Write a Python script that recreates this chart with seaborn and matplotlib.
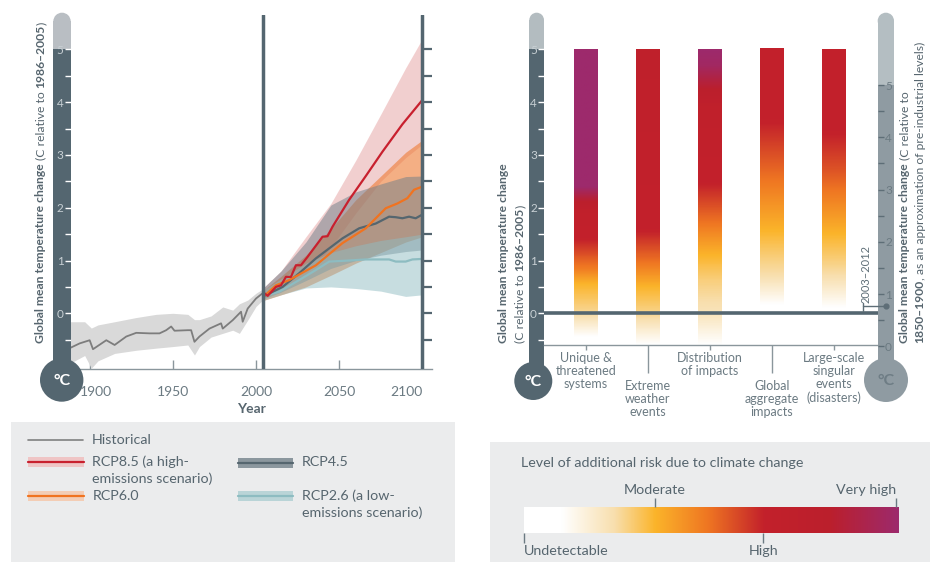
import numpy as np
import pandas as pd
import matplotlib
matplotlib.use("Agg")
import matplotlib.pyplot as plt
import seaborn as sns
from matplotlib.colors import LinearSegmentedColormap
from matplotlib.patches import Rectangle, Circle
from matplotlib.transforms import ScaledTranslation

# ==========================
# Data
# ==========================

# observed record
hist_years = [1888, 1894, 1900, 1902, 1910, 1915, 1922, 1928, 1936, 1942, 1946, 1949,
              1951, 1959, 1961, 1963, 1966, 1972, 1979, 1980, 1986, 1991, 1992, 1995,
              2000, 2004]
hist_mean = [-0.66, -0.57, -0.51, -0.68, -0.51, -0.60, -0.44, -0.37, -0.38, -0.38, -0.32, -0.25,
             -0.33, -0.32, -0.32, -0.54, -0.44, -0.29, -0.19, -0.29, -0.13, 0.03, -0.16, 0.09,
             0.28, 0.38]
hist_band_years = [1888, 1897, 1901, 1905, 1915, 1928, 1940, 1950, 1959, 1963, 1966, 1973,
                   1980, 1986, 1990, 1995, 2000, 2004]
hist_high = [-0.16, -0.16, -0.28, -0.22, -0.16, -0.08, -0.02, 0.0, -0.02, -0.12, -0.12, -0.05,
             0.12, 0.06, 0.18, 0.25, 0.38, 0.46]
hist_low = [-0.95, -0.80, -1.04, -0.90, -0.76, -0.70, -0.66, -0.63, -0.60, -0.79, -0.63, -0.45,
            -0.38, -0.32, -0.38, -0.13, 0.13, 0.25]

# scenario means
rcp85_years = [2005, 2007, 2012, 2015, 2018, 2021, 2024, 2027, 2031, 2040, 2043, 2046,
               2056, 2066, 2076, 2088, 2100]
rcp85_mean = [0.38, 0.33, 0.50, 0.53, 0.69, 0.69, 0.91, 0.91, 1.07, 1.45, 1.46, 1.64,
              2.15, 2.60, 3.06, 3.58, 4.04]
rcp60_years = [2005, 2012, 2020, 2036, 2052, 2066, 2078, 2085, 2091, 2095, 2100]
rcp60_mean = [0.33, 0.53, 0.63, 0.91, 1.33, 1.61, 1.99, 2.08, 2.18, 2.34, 2.40]
rcp45_years = [2005, 2016, 2026, 2036, 2052, 2062, 2072, 2080, 2084, 2088, 2092, 2096, 2100]
rcp45_mean = [0.33, 0.50, 0.76, 1.04, 1.42, 1.61, 1.70, 1.83, 1.82, 1.80, 1.83, 1.80, 1.87]
rcp26_years = [2005, 2014, 2026, 2036, 2044, 2056, 2066, 2080, 2084, 2090, 2094, 2100]
rcp26_mean = [0.33, 0.41, 0.63, 0.82, 0.98, 1.00, 1.02, 1.02, 0.98, 0.98, 1.02, 1.03]

# scenario ranges
band_years = [2005, 2015, 2030, 2045, 2060, 2075, 2090, 2100]
rcp85_low = [0.28, 0.45, 0.75, 1.25, 1.90, 2.50, 2.95, 3.20]
rcp85_high = [0.50, 0.80, 1.45, 2.08, 2.90, 3.77, 4.65, 5.20]
rcp60_low = [0.25, 0.35, 0.50, 0.72, 0.95, 1.15, 1.35, 1.45]
rcp60_high = [0.45, 0.70, 1.10, 1.60, 2.15, 2.60, 3.05, 3.28]
rcp45_low = [0.28, 0.40, 0.62, 0.85, 1.00, 1.10, 1.17, 1.20]
rcp45_high = [0.50, 0.80, 1.35, 2.05, 2.30, 2.45, 2.59, 2.60]
rcp26_low = [0.25, 0.35, 0.48, 0.50, 0.47, 0.42, 0.32, 0.35]
rcp26_high = [0.45, 0.65, 0.95, 1.15, 1.28, 1.38, 1.45, 1.50]

# reasons for concern: temperature -> risk level stops
categories = ["Unique &\nthreatened\nsystems", "Extreme\nweather\nevents",
              "Distribution\nof impacts", "Global\naggregate\nimpacts",
              "Large-scale\nsingular\nevents\n(disasters)"]
risk_temps = [
    [-0.45, 0.0, 0.55, 0.85, 1.4, 1.9, 2.4, 5.0],
    [-0.6, 0.0, 0.5, 0.95, 1.55, 5.0],
    [-0.6, 0.0, 0.6, 1.1, 1.7, 2.45, 3.9, 4.7, 5.0],
    [0.15, 0.7, 1.1, 1.55, 2.5, 3.6, 5.0],
    [0.1, 0.7, 1.05, 1.5, 2.2, 2.7, 3.4, 5.0],
]
risk_levels = [
    [0.10, 0.26, 0.35, 0.48, 0.64, 0.68, 1.0, 1.0],
    [0.10, 0.27, 0.35, 0.49, 0.64, 0.72],
    [0.10, 0.22, 0.28, 0.35, 0.49, 0.64, 0.70, 0.97, 1.0],
    [0.10, 0.24, 0.29, 0.35, 0.49, 0.64, 0.66],
    [0.10, 0.24, 0.29, 0.35, 0.47, 0.55, 0.64, 0.66],
]
period_label = "2003–2012"
period_temp = 0.78   # relative to 1850-1900

# risk colour scale
risk_positions = [0.0, 0.1, 0.24, 0.35, 0.49, 0.64, 0.82, 1.0]
risk_colors = ["#ffffff", "#ffffff", "#f8dfae", "#fbb42a", "#ef7622", "#c3212b", "#bb1f2d", "#9d2a6c"]
risk_ticks_top = [0.349, 0.991]
risk_labels_top = ["Moderate", "Very high"]
risk_ticks_bottom = [0.0, 0.638]
risk_labels_bottom = ["Undetectable", "High"]

scenarios = ["RCP2.6", "RCP4.5", "RCP6.0", "RCP8.5"]
line_colors = {"RCP8.5": "#c8202e", "RCP6.0": "#f07320", "RCP4.5": "#55666f", "RCP2.6": "#8dbcc1"}
band_colors = {"RCP8.5": "#e5a0a0", "RCP6.0": "#ee7a33", "RCP4.5": "#6e7e88", "RCP2.6": "#90bcc2"}
band_alpha = {"RCP8.5": 0.5, "RCP6.0": 0.6, "RCP4.5": 0.5, "RCP2.6": 0.5}

# ==========================
# Style
# ==========================
sns.set_theme(style="white")
plt.rcParams["font.family"] = ["Lato", "DejaVu Sans"]

W, H = 936, 562
SLATE = "#546670"
TXT = "#56656e"
SPINE = "#8a969c"
LIGHT = "#b9bec3"
LEG_SIZE = 10.3

fig = plt.figure(figsize=(W / 100, H / 100), dpi=100)


def frac(l, t, r, b):
    return [l / W, 1 - b / H, (r - l) / W, (b - t) / H]


def overlay(z):
    a = fig.add_axes([0, 0, 1, 1])
    a.set_xlim(0, W)
    a.set_ylim(H, 0)
    a.axis("off")
    a.patch.set_alpha(0)
    a.set_zorder(z)
    return a


back = overlay(0)
ax = fig.add_axes(frac(70.7, 15, 432, 369))
axr = fig.add_axes(frac(544, 15, 877.7, 350))
cb = fig.add_axes(frac(524, 507.3, 899, 532.7))
for a in (ax, axr, cb):
    a.set_zorder(2)
    a.set_facecolor("none")
front = overlay(6)

# ==========================
# Left panel: temperature projections
# ==========================
ax.fill_between(hist_band_years, hist_low, hist_high, color="#d9d9d9", lw=0, zorder=1)
sns.lineplot(x=hist_years, y=hist_mean, ax=ax, color="#7d7d7d", linewidth=1.3, zorder=3)

lows = {"RCP8.5": rcp85_low, "RCP6.0": rcp60_low, "RCP4.5": rcp45_low, "RCP2.6": rcp26_low}
highs = {"RCP8.5": rcp85_high, "RCP6.0": rcp60_high, "RCP4.5": rcp45_high, "RCP2.6": rcp26_high}
for s in ["RCP8.5", "RCP6.0", "RCP4.5", "RCP2.6"]:
    ax.fill_between(band_years, lows[s], highs[s], color=band_colors[s],
                    alpha=band_alpha[s], lw=0, zorder=2)

proj = pd.concat([
    pd.DataFrame({"year": rcp85_years, "value": rcp85_mean, "scenario": "RCP8.5"}),
    pd.DataFrame({"year": rcp60_years, "value": rcp60_mean, "scenario": "RCP6.0"}),
    pd.DataFrame({"year": rcp45_years, "value": rcp45_mean, "scenario": "RCP4.5"}),
    pd.DataFrame({"year": rcp26_years, "value": rcp26_mean, "scenario": "RCP2.6"}),
])
sns.lineplot(data=proj, x="year", y="value", hue="scenario", hue_order=scenarios,
             palette=line_colors, estimator=None, sort=False, linewidth=1.6,
             legend=False, ax=ax, zorder=4)

ax.axvline(2004, color=SLATE, lw=2.5, zorder=5)
ax.axvline(2100, color=SLATE, lw=2.5, zorder=5)

ax.set_xlim(1888.6, 2105.8)
ax.set_ylim(-1.055, 5.65)
for sp in ("left", "top", "right"):
    ax.spines[sp].set_visible(False)
ax.spines["bottom"].set_color(SPINE)
ax.spines["bottom"].set_linewidth(1)

ax.set_xticks([1900, 1950, 2000, 2050, 2100])
ax.tick_params(axis="x", direction="in", length=6.5, width=1, color=SPINE,
               labelcolor="#6b7a82", labelsize=10, pad=12, bottom=True)
xl = ax.get_xticklabels()
xl[0].set_transform(xl[0].get_transform() + ScaledTranslation(0.065, 0, fig.dpi_scale_trans))
xl[-1].set_ha("right")
ax.set_xlabel("Year", fontsize=10, fontweight="bold", color=TXT, labelpad=4)
ax.set_ylabel("")

ax.set_yticks([0, 1, 2, 3, 4, 5])
ax.set_yticks([-0.5, 0.5, 1.5, 2.5, 3.5, 4.5], minor=True)
ax.tick_params(axis="y", which="both", direction="out", length=4.1, width=1,
               color="white", labelcolor="#c8d0d4", labelsize=8.5, pad=1.0, left=True)
right = ax.secondary_yaxis("right")
right.set_yticks(np.arange(-0.5, 5.01, 0.5))
right.set_yticklabels([])
right.tick_params(direction="in", length=7.7, width=1.6, color=SLATE)
right.spines["right"].set_visible(False)

# ==========================
# Right panel: reasons for concern
# ==========================
risk_cmap = LinearSegmentedColormap.from_list("risk", list(zip(risk_positions, risk_colors)))
bar_w = 0.387
for i, (temps, levels) in enumerate(zip(risk_temps, risk_levels)):
    grid = np.linspace(temps[0], temps[-1], 400)
    shade = np.interp(grid, temps, levels)[:, None]
    axr.imshow(shade, extent=[i - bar_w / 2, i + bar_w / 2, temps[0], temps[-1]],
               origin="lower", aspect="auto", cmap=risk_cmap, vmin=0, vmax=1,
               interpolation="bilinear", zorder=1)

axr.axhline(0, color=SLATE, lw=2.6, zorder=3)
axr.set_xlim(-0.677, 4.705)
axr.set_ylim(-0.695, 5.65)
for sp in ("left", "top", "right"):
    axr.spines[sp].set_visible(False)
axr.spines["bottom"].set_position(("data", -0.6))
axr.spines["bottom"].set_color(SPINE)
axr.spines["bottom"].set_linewidth(1)

axr.set_xticks(range(len(categories)))
axr.set_xticklabels([])
axr.tick_params(axis="x", direction="out", length=3.6, width=1, color=SPINE, bottom=True)
for k, tick in enumerate(axr.xaxis.get_major_ticks()):
    if k % 2 == 1:
        tick.tick1line.set_markersize(20)

for i, cat in enumerate(categories):
    off = -7 if i % 2 == 0 else -35
    axr.annotate(cat, xy=(i, -0.6), xytext=(0, off), textcoords="offset pixels",
                 ha="center", va="top", fontsize=9, color="#6b7a82",
                 linespacing=1.12, annotation_clip=False)

axr.set_yticks([0, 1, 2, 3, 4, 5])
axr.set_yticks([-0.5, 0.5, 1.5, 2.5, 3.5, 4.5], minor=True)
axr.tick_params(axis="y", which="both", direction="out", length=4.1, width=1,
                color="white", labelcolor="#c8d0d4", labelsize=8.5, pad=1.0, left=True)

axr2 = axr.twinx()
axr2.set_zorder(3)
axr2.set_ylim(-0.07, 6.34)
for sp in axr2.spines.values():
    sp.set_visible(False)
axr2.set_yticks([0, 1, 2, 3, 4, 5])
axr2.set_yticks([0.5, 1.5, 2.5, 3.5, 4.5], minor=True)
axr2.tick_params(axis="y", which="both", direction="out", length=4.1, width=1,
                 color="#5e6e77", labelcolor="#6b7a82", labelsize=8.5, pad=1.2, right=True)
axr2.grid(False)

# 2003-2012 marker
axr2.plot([4.475, 4.84], [period_temp, period_temp], color="#5e6e77", lw=1, clip_on=False, zorder=7)
axr2.plot([4.475, 4.475], [period_temp - 0.11, period_temp + 0.05], color="#5e6e77", lw=1,
          clip_on=False, zorder=7)
axr2.scatter([4.84], [period_temp], s=12, color="#5e6e77", clip_on=False, zorder=8)
axr2.text(4.52, period_temp + 0.05, period_label, rotation=90, rotation_mode="anchor",
          ha="left", va="center", fontsize=8, color="#5e6e77", clip_on=False)

# ==========================
# Risk colour legend
# ==========================
cb.imshow(np.linspace(0, 1, 256)[None, :], cmap=risk_cmap, aspect="auto", extent=[0, 1, 0, 1])
cb.set_xlim(0, 1)
cb.set_yticks([])
for sp in cb.spines.values():
    sp.set_visible(False)
cb.set_xticks(risk_ticks_bottom, labels=risk_labels_bottom)
cb.tick_params(axis="x", direction="out", length=7, width=1, color="#6b7a82",
               labelcolor=TXT, labelsize=LEG_SIZE, pad=1.5, bottom=True)
cb.get_xticklabels()[0].set_ha("left")
top = cb.secondary_xaxis("top")
top.set_xticks(risk_ticks_top, labels=risk_labels_top)
top.tick_params(direction="out", length=6.5, width=1, color="#6b7a82",
                labelcolor=TXT, labelsize=LEG_SIZE, pad=1.5)
top.get_xticklabels()[-1].set_ha("right")
for sp in top.spines.values():
    sp.set_visible(False)

# ==========================
# Thermometers
# ==========================


def py(a, v):
    return H - a.transData.transform((0, v))[1]


def thermometer(x0, x1, split, top_color, body_color, bulb, r, txt_color):
    rad = (x1 - x0) / 2
    top_y = 12.7
    back.add_patch(Circle(((x0 + x1) / 2, top_y + rad), rad, color=top_color, lw=0))
    back.add_patch(Rectangle((x0, top_y + rad), x1 - x0, split - top_y - rad, color=top_color, lw=0))
    back.add_patch(Rectangle((x0, split), x1 - x0, bulb[1] - split, color=body_color, lw=0))
    front.add_patch(Circle(bulb, r, color=body_color, lw=0))
    front.text(bulb[0], bulb[1] + 1, "°C", ha="center", va="center", fontsize=11.5,
               fontweight="bold", color=txt_color)


thermometer(53.3, 70.7, py(ax, 5), LIGHT, SLATE, (61.7, 380), 21.7, "white")
thermometer(529.3, 544, py(axr, 5), "#b3bcc0", SLATE, (533.3, 381), 19, "white")
thermometer(877.7, 894, py(axr2, 5), "#b4bec2", "#8f9ba2", (886, 380), 22, "#6e7d85")

# ==========================
# Axis titles (mixed weight, vertical)
# ==========================
renderer = fig.canvas.get_renderer()


def vtext(x, y0, parts, size=8.7):
    y = y0
    for k, (s, bold) in enumerate(parts):
        if k > 0 and not s.startswith((")", ",")):
            y -= 0.28 * size * 100 / 72
        t = front.text(x, y, s, rotation=90, rotation_mode="anchor", ha="left", va="center",
                       fontsize=size, fontweight="bold" if bold else "normal", color=TXT)
        y -= t.get_window_extent(renderer).height


vtext(41, 343.3, [("Global mean temperature change", True), ("(C relative to", False),
                  ("1986–2005", True), (")", False)])
vtext(503.3, 343.3, [("Global mean temperature change", True)])
vtext(520, 343.3, [("(C relative to", False), ("1986–2005", True), (")", False)])
vtext(905, 343.3, [("Global mean temperature change", True), ("(C relative to", False)])
vtext(920, 343.3, [("1850–1900", True), (", as an approximation of pre-industrial levels)", False)])

# ==========================
# Legend boxes
# ==========================
back.add_patch(Rectangle((11, 422.3), 444, H - 422.3, color="#ebeced", lw=0, zorder=0))
back.add_patch(Rectangle((490, 441.7), 440, H - 441.7, color="#ebeced", lw=0, zorder=0))

back.plot([28.3, 83.3], [440.3, 440.3], color="#808080", lw=1.2, zorder=2)
back.text(91.7, 440.3, "Historical", va="center", fontsize=LEG_SIZE, color=TXT)

legend_rows = [
    ("RCP8.5", 28.3, 461.7, ["RCP8.5 (a high-", "emissions scenario)"], "#efc5c5"),
    ("RCP6.0", 28.3, 496.0, ["RCP6.0"], "#f3cdb5"),
    ("RCP4.5", 237.7, 462.5, ["RCP4.5"], "#8b979e"),
    ("RCP2.6", 237.7, 496.0, ["RCP2.6 (a low-", "emissions scenario)"], "#b9d4d7"),
]
for s, x0, y0, lines, bcol in legend_rows:
    back.add_patch(Rectangle((x0, y0 - 5), 55.5, 10, color=bcol, lw=0, zorder=1))
    back.plot([x0, x0 + 55.5], [y0, y0], color=line_colors[s], lw=1.6, zorder=2)
    for j, line in enumerate(lines):
        back.text(x0 + 64, y0 + j * 16.6, line, va="center", fontsize=LEG_SIZE, color=TXT)

back.text(520.7, 463.3, "Level of additional risk due to climate change", va="center",
          fontsize=LEG_SIZE, color=TXT)

fig.savefig("out.png", dpi=100)
